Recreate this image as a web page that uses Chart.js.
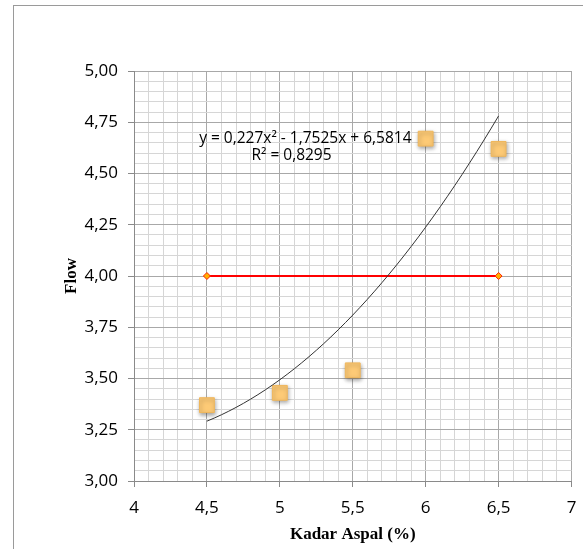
<!DOCTYPE html>
<html>
<head>
<meta charset="utf-8">
<script src="https://cdn.jsdelivr.net/npm/chart.js@4/dist/chart.umd.min.js"></script>
<style>
    html, body {margin: 0; padding: 0; background: #fff; overflow: hidden;}
    #wrap {position: relative; width: 583px; height: 549px;}
    #frame {position: absolute; left: 13px; top: 5px; width: 620px; height: 600px; border: 1px solid #9a9a9a;}
    canvas {position: absolute; left: 0; top: 0;}
</style>
</head>
<body>
<div id="wrap">
    <div id="frame"></div>
    <canvas id="flowChart" width="583" height="549"></canvas>
</div>
<script>
// Kadar aspal (%) vs flow
const kadarAspal = [4.5, 5, 5.5, 6, 6.5];
const flowValues = [3.37, 3.43, 3.54, 4.67, 4.62];

// Batas flow (garis merah)
const batasX = [4.5, 6.5];
const batasY = [4.00, 4.00];

// Trendline polinomial orde 2: y = a*x^2 + b*x + c
const trendCoef = [0.227, -1.7525, 6.5814];
const trendLabel = 'y = 0,227x² - 1,7525x + 6,5814';
const r2Label = 'R² = 0,8295';

const trendPoints = [];
for (let i = 0; i <= 40; i++) {
    const x = 4.5 + i * 0.05;
    trendPoints.push({x: x, y: trendCoef[0] * x * x + trendCoef[1] * x + trendCoef[2]});
}

function isMajor(v, step) {
    const r = v / step;
    return Math.abs(r - Math.round(r)) < 1e-6;
}

const shadowPlugin = {
    id: 'markerShadow',
    beforeDatasetDraw(chart, args) {
        if (args.index !== 2) return;
        const ctx = chart.ctx;
        ctx.save();
        ctx.shadowColor = 'rgba(0,0,0,0.35)';
        ctx.shadowBlur = 4;
        ctx.shadowOffsetX = 1;
        ctx.shadowOffsetY = 2;
    },
    afterDatasetDraw(chart, args) {
        if (args.index !== 2) return;
        chart.ctx.restore();
    }
};

const equationPlugin = {
    id: 'equation',
    afterDatasetsDraw(chart) {
        const ctx = chart.ctx;
        const xs = chart.scales.x, ys = chart.scales.y;
        ctx.save();
        ctx.fillStyle = '#000';
        ctx.font = '15.5px "Open Sans", sans-serif';
        ctx.textAlign = 'center';
        ctx.textBaseline = 'middle';
        ctx.fillText(trendLabel, xs.getPixelForValue(5.175), ys.getPixelForValue(4.67));
        ctx.fillText(r2Label, xs.getPixelForValue(5.08), ys.getPixelForValue(4.585));
        ctx.restore();
    }
};

const tickFont = {family: '"Open Sans", sans-serif', size: 17};
const titleFont = {family: '"Liberation Serif", "Times New Roman", serif', size: 17, weight: 'bold'};

new Chart(document.getElementById('flowChart'), {
    type: 'scatter',
    data: {
        datasets: [{
            label: 'Trendline',
            type: 'line',
            data: trendPoints,
            borderColor: '#333',
            borderWidth: 1,
            pointRadius: 0,
            fill: false,
            tension: 0
        }, {
            label: 'Batas',
            type: 'line',
            data: batasX.map((x, i) => ({x: x, y: batasY[i]})),
            borderColor: '#ff0000',
            borderWidth: 2,
            pointStyle: 'rectRot',
            pointRadius: 3.5,
            pointBackgroundColor: '#ffb000',
            pointBorderColor: '#ff2000',
            pointBorderWidth: 1,
            fill: false
        }, {
            label: 'Flow',
            data: kadarAspal.map((x, i) => ({x: x, y: flowValues[i]})),
            pointStyle: 'rect',
            pointRadius: 10.5,
            pointBackgroundColor: '#fdca76',
            pointBorderColor: '#f0b75c',
            pointBorderWidth: 1
        }]
    },
    options: {
        responsive: false,
        animation: false,
        layout: {padding: {top: 71, right: 11, left: 0, bottom: 0}},
        plugins: {legend: {display: false}, tooltip: {enabled: false}},
        scales: {
            x: {
                type: 'linear',
                min: 4,
                max: 7,
                afterFit: function (scale) {
                    scale.height = 68;
                    scale.paddingLeft = 0;
                    scale.paddingRight = 0;
                },
                border: {color: '#8a8a8a'},
                grid: {
                    color: ctx => isMajor(ctx.tick.value, 0.5) ? '#a8a8a8' : '#d6d6d6',
                    tickColor: ctx => isMajor(ctx.tick.value, 0.5) ? '#8a8a8a' : 'rgba(0,0,0,0)',
                    tickLength: 6
                },
                ticks: {
                    stepSize: 0.1,
                    autoSkip: false,
                    maxRotation: 0,
                    padding: 11,
                    color: '#000',
                    font: tickFont,
                    callback: v => isMajor(v, 0.5) ? String(Math.round(v * 10) / 10).replace('.', ',') : ''
                },
                title: {display: true, text: 'Kadar Aspal (%)', color: '#000', font: titleFont, padding: {top: 0, bottom: 4}}
            },
            y: {
                type: 'linear',
                min: 3,
                max: 5,
                afterFit: function (scale) { scale.width = 134; },
                border: {color: '#8a8a8a'},
                grid: {
                    color: ctx => isMajor(ctx.tick.value, 0.25) ? '#a8a8a8' : '#d6d6d6',
                    tickColor: ctx => isMajor(ctx.tick.value, 0.25) ? '#8a8a8a' : 'rgba(0,0,0,0)',
                    tickLength: 6
                },
                ticks: {
                    stepSize: 0.05,
                    autoSkip: false,
                    padding: 10,
                    color: '#000',
                    font: tickFont,
                    callback: v => isMajor(v, 0.25) ? v.toFixed(2).replace('.', ',') : ''
                },
                title: {display: true, text: 'Flow', color: '#000', font: titleFont, padding: {top: 61, bottom: 0}}
            }
        }
    },
    plugins: [shadowPlugin, equationPlugin]
});
</script>
</body>
</html>
